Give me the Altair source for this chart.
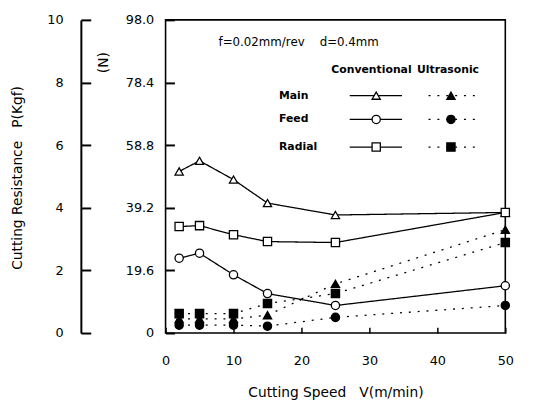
import altair as alt
import pandas as pd

# ---- data (P in kgf; N axis = P * 9.8) ----
speeds = [2, 5, 10, 15, 25, 50]
conv_main = [5.16, 5.50, 4.90, 4.15, 3.77, 3.85]
conv_feed = [2.39, 2.55, 1.86, 1.26, 0.88, 1.51]
conv_radial = [3.40, 3.43, 3.14, 2.92, 2.89, 3.85]
ultra_main = [0.45, 0.45, 0.45, 0.57, 1.57, 3.30]
ultra_feed = [0.25, 0.25, 0.25, 0.22, 0.50, 0.88]
ultra_radial = [0.62, 0.62, 0.62, 0.94, 1.26, 2.89]

components = ["Main", "Feed", "Radial"]
modes = ["Conventional", "Ultrasonic"]
x_ticks = [0, 10, 20, 30, 40, 50]
y_ticks = [0, 2, 4, 6, 8, 10]
NB = "\u00a0"
condition_text = "f=0.02mm/rev" + NB * 4 + "d=0.4mm"
x_title = "Cutting Speed" + NB * 3 + "V(m/min)"
y_title = "Cutting Resistance" + NB * 3 + "P(Kgf)"

series = {
    ("Main", "Conventional"): conv_main,
    ("Feed", "Conventional"): conv_feed,
    ("Radial", "Conventional"): conv_radial,
    ("Main", "Ultrasonic"): ultra_main,
    ("Feed", "Ultrasonic"): ultra_feed,
    ("Radial", "Ultrasonic"): ultra_radial,
}
rows = []
for (comp, mode), vals in series.items():
    for v, p in zip(speeds, vals):
        rows.append({"V": v, "P": p, "comp": comp, "mode": mode, "key": comp + mode})
df = pd.DataFrame(rows)

FONT = "DejaVu Sans"
W, H = 345, 318

xscale = alt.Scale(domain=[0, 50], nice=False, zero=False)
yscale = alt.Scale(domain=[0, 10], nice=False, zero=False)

shape_scale = alt.Scale(domain=components, range=["triangle-up", "circle", "square"])
fill_scale = alt.Scale(domain=modes, range=["white", "black"])
dash_scale = alt.Scale(domain=modes, range=[[1, 0], [2, 7]])

x_enc = alt.X("V:Q", scale=xscale, axis=alt.Axis(
    orient="top", offset=-H, values=x_ticks, tickSize=6, tickColor="black", tickWidth=1.5,
    domain=False, grid=False, labelPadding=-34, labelBaseline="middle",
    labelFont=FONT, labelFontSize=13, labelColor="black", labelFlush=False,
    title=x_title, titleX=W / 2, titleY=60, titleBaseline="middle",
    titleAlign="center", titleFont=FONT, titleFontSize=14, titleFontWeight="normal",
    titleColor="black"))
y_enc = alt.Y("P:Q", scale=yscale, axis=alt.Axis(
    orient="right", offset=-W, values=y_ticks, tickSize=9, tickColor="black", tickWidth=2,
    domain=False, grid=False, labelPadding=-21, labelAlign="right", labelBaseline="middle",
    labelExpr="datum.value == 0 ? '0' : format(datum.value * 9.8, '.1f')",
    labelFont=FONT, labelFontSize=13, labelColor="black", labelFlush=False, labelOverlap=False,
    title="(N)", titleAngle=270, titleX=-63, titleY=43, titleAlign="center",
    titleBaseline="middle", titleFont=FONT, titleFontSize=14, titleFontWeight="normal",
    titleColor="black"))

lines = alt.Chart(df).mark_line(color="black", strokeWidth=1.3).encode(
    x=x_enc, y=y_enc, detail="key:N",
    strokeDash=alt.StrokeDash("mode:N", scale=dash_scale, legend=None))

points = alt.Chart(df).mark_point(size=70, stroke="black", strokeWidth=1.3, filled=False, opacity=1).encode(
    x="V:Q", y="P:Q",
    shape=alt.Shape("comp:N", scale=shape_scale, legend=None),
    fill=alt.Fill("mode:N", scale=fill_scale, legend=None))

# ---- in-plot legend (positions in data units) ----
row_y = {"Main": 7.58, "Feed": 6.82, "Radial": 5.94}
seg = {"Conventional": (27.1, 34.8, 31.0), "Ultrasonic": (38.7, 46.2, 42.0)}
leg_lines = pd.DataFrame([
    {"x": seg[m][0], "x2": seg[m][1], "y": row_y[c], "mode": m, "comp": c}
    for c in components for m in modes])
leg_pts = pd.DataFrame([
    {"x": seg[m][2], "y": row_y[c], "mode": m, "comp": c}
    for c in components for m in modes])
leg_text = pd.DataFrame(
    [{"x": 16.7, "y": row_y[c], "t": c} for c in components])
head_text = pd.DataFrame([
    {"x": 24.4, "y": 8.4, "t": modes[0]},
    {"x": 37.0, "y": 8.4, "t": modes[1]}])
cond = pd.DataFrame([{"x": 7.8, "y": 9.28, "t": condition_text}])

leg_rule = alt.Chart(leg_lines).mark_rule(color="black", strokeWidth=1.3).encode(
    x="x:Q", x2="x2:Q", y="y:Q",
    strokeDash=alt.StrokeDash("mode:N", scale=dash_scale, legend=None))
leg_mark = alt.Chart(leg_pts).mark_point(size=70, stroke="black", strokeWidth=1.3, opacity=1).encode(
    x="x:Q", y="y:Q",
    shape=alt.Shape("comp:N", scale=shape_scale, legend=None),
    fill=alt.Fill("mode:N", scale=fill_scale, legend=None))
leg_lbl = alt.Chart(leg_text).mark_text(align="left", baseline="middle", font=FONT,
                                        fontSize=11, fontWeight="bold", color="black").encode(
    x="x:Q", y="y:Q", text="t:N")
head_lbl = alt.Chart(head_text).mark_text(align="left", baseline="middle", font=FONT,
                                          fontSize=11, fontWeight="bold", color="black").encode(
    x="x:Q", y="y:Q", text="t:N")
cond_lbl = alt.Chart(cond).mark_text(align="left", baseline="middle", font=FONT,
                                     fontSize=12, color="black").encode(
    x="x:Q", y="y:Q", text="t:N")

main_layer = alt.layer(lines, points, leg_rule, leg_mark, leg_lbl, head_lbl, cond_lbl)

# ---- kgf axis (same range, drawn to the far left) ----
kgf = alt.Chart(pd.DataFrame({"P": y_ticks})).mark_point(opacity=0).encode(
    y=alt.Y("P:Q", scale=yscale, axis=alt.Axis(
        orient="right", offset=-(W + 86), values=y_ticks, tickSize=10, tickColor="black",
        tickWidth=2, domain=True, domainColor="black", domainWidth=2, grid=False,
        labelPadding=-28, labelAlign="right", labelBaseline="middle", labelFont=FONT,
        labelFontSize=13, labelColor="black", labelFlush=False, labelOverlap=False,
        title=y_title, titleAngle=270, titleX=-64, titleY=160,
        titleAlign="center", titleBaseline="middle", titleFont=FONT, titleFontSize=14,
        titleFontWeight="normal", titleColor="black")))

chart = alt.layer(main_layer, kgf).resolve_scale(y="independent").properties(
    width=W, height=H,
    autosize=alt.AutoSizeParams(type="none"),
    padding={"left": 160, "top": 9, "right": 20, "bottom": 70},
    background="white",
).configure_view(stroke="black", strokeWidth=1.6)

chart.save("out.html", embed_options={"renderer": "svg", "actions": False})
